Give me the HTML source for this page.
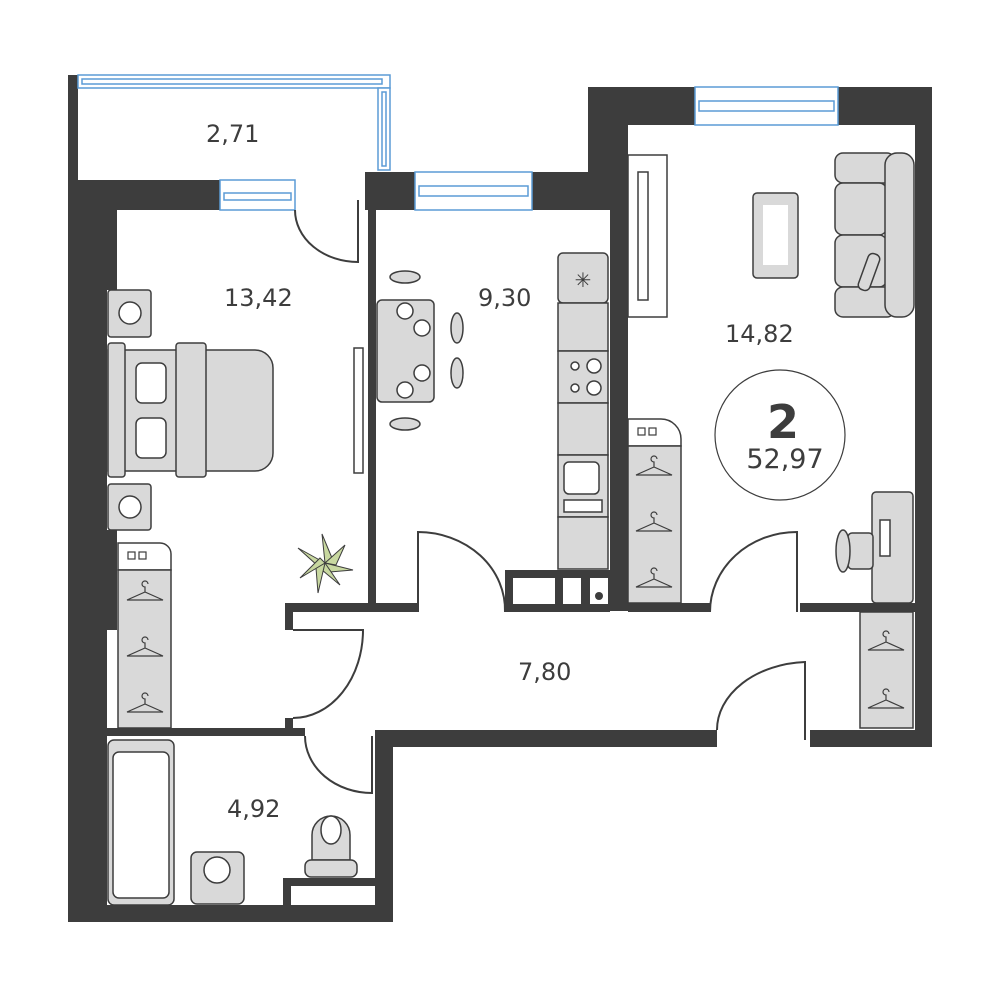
<!DOCTYPE html>
<html><head><meta charset="utf-8"><style>body{margin:0;background:#fff}svg{display:block}text{font-family:"DejaVu Sans","Liberation Sans",sans-serif;fill:#3d3d3d}</style></head><body>
<svg width="1000" height="1000" viewBox="0 0 1000 1000" xmlns="http://www.w3.org/2000/svg">
<g fill="#3d3d3d">
<rect x="68" y="75" width="10" height="110"/>
<rect x="68" y="180" width="39" height="742"/>
<rect x="107" y="180" width="10" height="110"/>
<rect x="107" y="530" width="10" height="100"/>
<rect x="68" y="180" width="152" height="30"/>
<rect x="365" y="172" width="50" height="38"/>
<rect x="532" y="172" width="78" height="38"/>
<rect x="368" y="210" width="8" height="396"/>
<rect x="588" y="87" width="40" height="120"/>
<rect x="588" y="87" width="107" height="38"/>
<rect x="838" y="87" width="94" height="38"/>
<rect x="915" y="87" width="17" height="660"/>
<rect x="610" y="125" width="18" height="486"/>
<rect x="285" y="603" width="133" height="9"/>
<rect x="505" y="570" width="105" height="42"/>
<rect x="628" y="603" width="82" height="9"/>
<rect x="800" y="603" width="115" height="9"/>
<rect x="285" y="603" width="8" height="27"/>
<rect x="285" y="718" width="8" height="14"/>
<rect x="375" y="730" width="342" height="17"/>
<rect x="810" y="730" width="122" height="17"/>
<rect x="107" y="728" width="198" height="8"/>
<rect x="375" y="730" width="18" height="192"/>
<rect x="68" y="905" width="325" height="17"/>
<rect x="283" y="878" width="92" height="8"/>
<rect x="283" y="878" width="8" height="30"/>
</g>
<g fill="#fff"><rect x="513" y="578" width="42" height="26"/><rect x="563" y="578" width="18" height="26"/><rect x="590" y="578" width="18" height="26"/></g>
<circle cx="599" cy="596" r="4" fill="#3d3d3d"/>
<g fill="#fff" stroke="#5b9bd5" stroke-width="1.5">
<rect x="78" y="75" width="312" height="13"/><rect x="82" y="79" width="300" height="5"/>
<rect x="378" y="88" width="12" height="82"/><rect x="382" y="92" width="4" height="74"/>
<rect x="220" y="180" width="75" height="30"/><rect x="224" y="193" width="67" height="7"/>
<rect x="415" y="172" width="117" height="38"/><rect x="419" y="186" width="109" height="10"/>
<rect x="695" y="87" width="143" height="38"/><rect x="699" y="101" width="135" height="10"/>
</g>
<g fill="none" stroke="#3d3d3d" stroke-width="2">
<path d="M295 210 A63 52 0 0 0 358 262 V200"/>
<path d="M418 612 V532 A87 78 0 0 1 505 612"/>
<path d="M710 612 A87 80 0 0 1 797 532 V612"/>
<path d="M293 718 A70 88 0 0 0 363 630 H293"/>
<path d="M305 736 A67 57 0 0 0 372 793 V736"/>
<path d="M717 730 A93 68 0 0 1 805 662 V740"/>
</g>
<g font-size="24">
<text x="206" y="142">2,71</text>
<text x="224" y="306">13,42</text>
<text x="478" y="306">9,30</text>
<text x="725" y="342">14,82</text>
<text x="518" y="680">7,80</text>
<text x="227" y="817">4,92</text>
</g>
<circle cx="780" cy="435" r="65" fill="none" stroke="#3d3d3d" stroke-width="1.2"/>
<text x="783" y="438" font-size="46" font-weight="bold" text-anchor="middle">2</text>
<text x="785" y="468" font-size="27" text-anchor="middle">52,97</text>
<g fill="#d9d9d9" stroke="#3d3d3d" stroke-width="1.5">
<rect x="108" y="290" width="43" height="47" rx="3"/>
<rect x="108" y="484" width="43" height="46" rx="3"/>
<path d="M108 350 H255 A18 18 0 0 1 273 368 V453 A18 18 0 0 1 255 471 H108 Z"/>
<rect x="108" y="343" width="17" height="134" rx="3"/>
<rect x="176" y="343" width="30" height="134" rx="3"/>
<rect x="136" y="363" width="30" height="40" rx="6" fill="#fff"/>
<rect x="136" y="418" width="30" height="40" rx="6" fill="#fff"/>
<rect x="354" y="348" width="9" height="125" fill="#fff"/>
<path d="M118 570 V543 H160 A11 11 0 0 1 171 554 V570 Z" fill="#fff"/>
<rect x="118" y="570" width="53" height="158"/>
<rect x="377" y="300" width="57" height="102" rx="5"/>
<ellipse cx="405" cy="277" rx="15" ry="6"/><ellipse cx="405" cy="424" rx="15" ry="6"/>
<ellipse cx="457" cy="328" rx="6" ry="15"/><ellipse cx="457" cy="373" rx="6" ry="15"/>
<rect x="558" y="253" width="50" height="50" rx="5"/>
<rect x="558" y="303" width="50" height="48"/>
<rect x="558" y="351" width="50" height="52"/>
<rect x="558" y="403" width="50" height="52"/>
<rect x="558" y="455" width="50" height="62"/>
<rect x="558" y="517" width="50" height="52"/>
<rect x="628" y="155" width="39" height="162" fill="#fff"/>
<rect x="638" y="172" width="10" height="128" fill="#fff"/>
<rect x="753" y="193" width="45" height="85" rx="4"/>
<rect x="763" y="205" width="25" height="60" fill="#fff" stroke="none"/>
<rect x="835" y="153" width="60" height="30" rx="8"/>
<rect x="835" y="183" width="52" height="52" rx="8"/>
<rect x="835" y="235" width="52" height="52" rx="8"/>
<rect x="835" y="287" width="60" height="30" rx="8"/>
<rect x="885" y="153" width="29" height="164" rx="12"/>
<rect x="863" y="253" width="12" height="38" rx="5" transform="rotate(20 869 272)"/>
<path d="M628 446 V419 H661 A20 20 0 0 1 681 439 V446 Z" fill="#fff"/>
<rect x="628" y="446" width="53" height="157"/>
<rect x="872" y="492" width="41" height="111" rx="4"/>
<rect x="848" y="533" width="25" height="36" rx="4"/>
<ellipse cx="843" cy="551" rx="7" ry="21"/>
<rect x="860" y="612" width="53" height="116"/>
<rect x="108" y="740" width="66" height="165" rx="6"/>
<rect x="113" y="752" width="56" height="146" rx="6" fill="#fff"/>
<rect x="191" y="852" width="53" height="52" rx="6"/>
<path d="M312 860 V835 A19 19 0 0 1 350 835 V860 Z"/>
<rect x="305" y="860" width="52" height="17" rx="6"/>
</g>
<g fill="#fff" stroke="#3d3d3d" stroke-width="1.2">
<rect x="128" y="552" width="7" height="7"/><rect x="139" y="552" width="7" height="7"/>
<rect x="638" y="428" width="7" height="7"/><rect x="649" y="428" width="7" height="7"/>
</g>
<g fill="#fff" stroke="#3d3d3d" stroke-width="1.5">
<circle cx="130" cy="313" r="11"/><circle cx="130" cy="507" r="11"/>
<circle cx="405" cy="311" r="8"/><circle cx="422" cy="328" r="8"/><circle cx="422" cy="373" r="8"/><circle cx="405" cy="390" r="8"/>
<circle cx="594" cy="366" r="7"/><circle cx="594" cy="388" r="7"/><circle cx="575" cy="366" r="4"/><circle cx="575" cy="388" r="4"/>
<rect x="564" y="462" width="35" height="32" rx="5"/>
<rect x="564" y="500" width="38" height="12"/>
<rect x="880" y="520" width="10" height="36"/>
<ellipse cx="331" cy="830" rx="10" ry="14"/>
<circle cx="217" cy="870" r="13"/>
</g>
<text x="583" y="287" font-size="20" text-anchor="middle">✳</text>
<g fill="none" stroke="#3d3d3d" stroke-width="1.2">
<path d="M127 600 L145 592 L163 600 Z M145 592 v-5 a3 3 0 1 1 3-3"/>
<path d="M127 656 L145 648 L163 656 Z M145 648 v-5 a3 3 0 1 1 3-3"/>
<path d="M127 712 L145 704 L163 712 Z M145 704 v-5 a3 3 0 1 1 3-3"/>
<path d="M636 475 L654 467 L672 475 Z M654 467 v-5 a3 3 0 1 1 3-3"/>
<path d="M636 531 L654 523 L672 531 Z M654 523 v-5 a3 3 0 1 1 3-3"/>
<path d="M636 587 L654 579 L672 587 Z M654 579 v-5 a3 3 0 1 1 3-3"/>
<path d="M868 650 L886 642 L904 650 Z M886 642 v-5 a3 3 0 1 1 3-3"/>
<path d="M868 708 L886 700 L904 708 Z M886 700 v-5 a3 3 0 1 1 3-3"/>
</g>
<g fill="#c8d8a0" stroke="#3d3d3d" stroke-width="1">
<path d="M325 563 L298 548 L318 566 Z"/><path d="M325 563 L322 534 L332 558 Z"/><path d="M325 563 L345 545 L336 565 Z"/>
<path d="M325 563 L353 570 L330 572 Z"/><path d="M325 563 L340 585 L322 570 Z"/><path d="M325 563 L318 593 L316 568 Z"/><path d="M325 563 L300 578 L320 558 Z"/>
</g>
</svg>
</body></html>
